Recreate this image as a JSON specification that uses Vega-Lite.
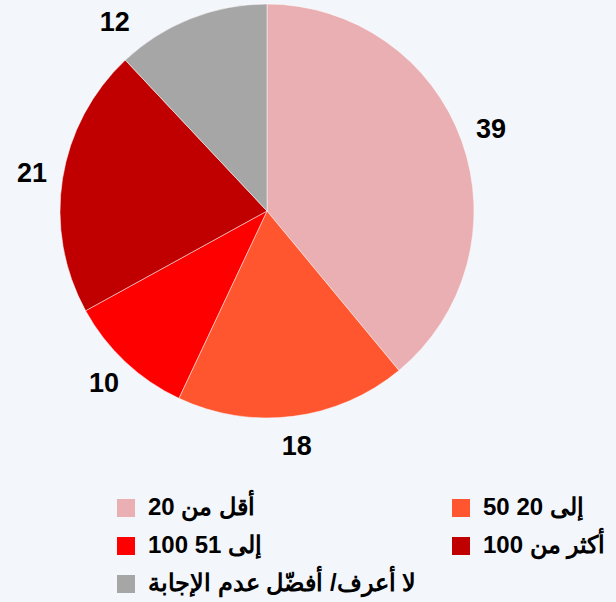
{
  "$schema": "https://vega.github.io/schema/vega-lite/v6.json",
  "autosize": {"type": "none"},
  "width": 534,
  "height": 422,
  "padding": {"left": 0, "top": 0, "right": 82, "bottom": 180},
  "background": "#F3F6FA",
  "config": {"view": {"stroke": null}},
  "data": {
    "values": [
      {"idx": 1, "category": "أقل من 20", "value": 39},
      {"idx": 2, "category": "إلى 20 50", "value": 18},
      {"idx": 3, "category": "إلى 51 100", "value": 10},
      {"idx": 4, "category": "أكثر من 100", "value": 21},
      {"idx": 5, "category": "لا أعرف/ أفضّل عدم الإجابة", "value": 12}
    ]
  },
  "encoding": {
    "theta": {"field": "value", "type": "quantitative", "stack": true},
    "order": {"field": "idx", "type": "quantitative"},
    "color": {
      "field": "category",
      "type": "nominal",
      "sort": null,
      "scale": {
        "domain": ["أقل من 20", "إلى 51 100", "لا أعرف/ أفضّل عدم الإجابة", "إلى 20 50", "أكثر من 100"],
        "range": ["#E9AFB2", "#FF0000", "#A6A6A6", "#FF5630", "#C00000"]
      },
      "legend": {
        "title": null,
        "orient": "none",
        "legendX": 114,
        "legendY": 496,
        "columns": 2,
        "symbolType": "square",
        "symbolSize": 324,
        "symbolStrokeWidth": 0,
        "labelFont": "Liberation Sans",
        "labelFontSize": 24,
        "labelFontWeight": "bold",
        "labelColor": "#000000",
        "labelLimit": 400,
        "labelOffset": 10,
        "rowPadding": 14,
        "columnPadding": 32
      }
    }
  },
  "layer": [
    {
      "mark": {"type": "arc", "outerRadius": 207, "stroke": "#ffffff", "strokeWidth": 0.5}
    },
    {
      "mark": {"type": "text", "radius": 238, "font": "Liberation Sans", "fontSize": 27, "fontWeight": "bold", "color": "#000000"},
      "encoding": {
        "text": {"condition": {"test": "datum.idx == 5", "value": ""}, "field": "value", "type": "quantitative"},
        "color": {"value": "#000000"}
      }
    },
    {
      "mark": {"type": "text", "radius": 242, "thetaOffset": -0.304, "font": "Liberation Sans", "fontSize": 27, "fontWeight": "bold", "color": "#000000"},
      "encoding": {
        "text": {"condition": {"test": "datum.idx != 5", "value": ""}, "field": "value", "type": "quantitative"},
        "color": {"value": "#000000"}
      }
    }
  ]
}
